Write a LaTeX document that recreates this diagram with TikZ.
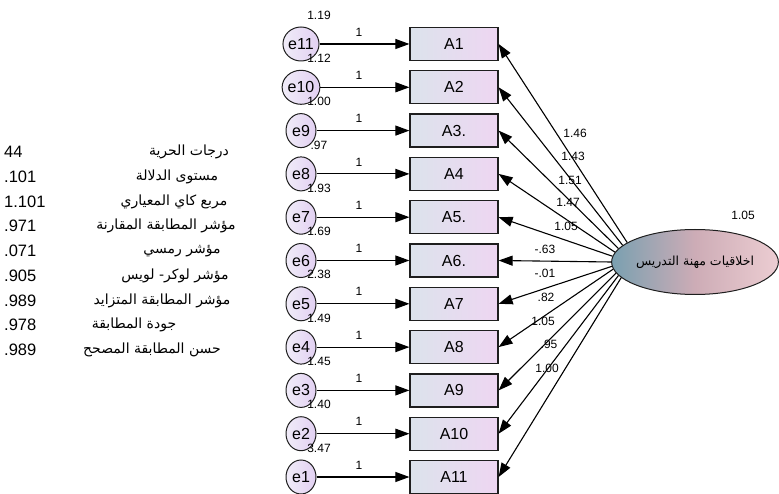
\documentclass[tikz,border=0pt]{standalone}
\usepackage{fontspec}
\setmainfont{Liberation Sans}
\newfontfamily\arabicfont[Script=Arabic]{DejaVu Sans}
\TeXXeTstate=1
\usetikzlibrary{arrows.meta,shapes.geometric}
\definecolor{boxL}{RGB}{220,227,236}
\definecolor{boxR}{RGB}{238,214,242}
\definecolor{errL}{RGB}{240,236,248}
\definecolor{errR}{RGB}{226,208,242}
\definecolor{facL}{RGB}{122,160,176}
\definecolor{facM}{RGB}{205,172,182}
\definecolor{facR}{RGB}{236,205,210}
\definecolor{edge}{RGB}{30,30,30}
\newcommand\dotnum[1]{.\kern0pt#1}
\tikzset{
  obs/.style={draw=edge, line width=1.2pt, rectangle, minimum width=88pt,
    minimum height=33pt, inner sep=0pt, left color=boxL, right color=boxR,
    font=\fontsize{16}{18}\selectfont},
  err/.style={draw=edge, line width=1pt, ellipse, minimum width=30pt,
    minimum height=34pt, inner sep=0pt, left color=errL, right color=errR,
    font=\fontsize{16}{18}\selectfont},
  latent/.style={draw=edge, line width=1pt, ellipse, minimum width=166pt,
    minimum height=65pt, inner sep=0pt, left color=facL, right color=facR,
    middle color=facM, font=\arabicfont\fontsize{12.5}{14}\selectfont},
  arr/.style={-{Triangle[length=14pt,width=10pt]}, line width=1.1pt, draw=black},
  small/.style={inner sep=0pt, font=\fontsize{12}{14}\selectfont},
  tabnum/.style={inner sep=0pt, anchor=west, font=\fontsize{16.5}{19}\selectfont},
  tabtxt/.style={inner sep=0pt, font=\arabicfont\fontsize{14}{17}\selectfont}
}
\begin{document}
\begin{tikzpicture}[x=1pt,y=-1pt]
\useasboundingbox (0,0) rectangle (779,494);

% latent factor
\node[latent] (F) at (695,262) {\beginR اخلاقيات مهنة التدريس\endR};
\node[small] (vF) at (743,215) {1.05};

% indicators, their error terms and the loadings from the factor
\foreach \i/\lab/\var/\ang in {1/A1/1.19/164, 2/A2/1.12/167, 3/A3./1.00/170,
    4/A4/.97/173, 5/A5./1.93/176, 6/A6./1.69/180, 7/A7/2.38/183,
    8/A8/1.49/185.5, 9/A9/1.45/188, 10/A10/1.40/190, 11/A11/3.47/192}{
  \pgfmathsetmacro\yy{44+(\i-1)*43.3}
  \pgfmathtruncatemacro\k{12-\i}
  \node[obs] (A\i) at (454,\yy) {\lab};
  \node[err] (e\k) at (301,\yy) {e\k};
  \node[small] (v\k) at (319,\yy-29) {\var};
  \draw[arr] (e\k) -- (A\i);
  \node[small] (w\i) at (359,\yy-12) {1};
  \draw[arr] (F.\ang) -- (A\i.east);
}

% loading estimates
\foreach \i/\val/\x/\y in {1/1.46/575/133, 2/1.43/573/156, 3/1.51/570/180,
    4/1.47/568/202, 5/1.05/566/226, 6/-.63/545/249, 7/-.01/545/273,
    8/.82/546/297, 9/1.05/543/321, 10/.95/549/344, 11/1.00/547/368}{
  \node[small] (L\i) at (\x,\y) {\val};
}

% fit indices
\foreach \i/\num/\txt/\xs in {1/44/درجات الحرية/189, 2/\dotnum{101}/مستوى الدلالة/177,
    3/1.101/مربع كاي المعياري/174, 4/\dotnum{971}/مؤشر المطابقة المقارنة/166,
    5/\dotnum{071}/مؤشر رمسي/182, 6/\dotnum{905}/مؤشر لوكر- لويس/175,
    7/\dotnum{989}/مؤشر المطابقة المتزايد/162, 8/\dotnum{978}/جودة المطابقة/134,
    9/\dotnum{989}/حسن المطابقة المصحح/152}{
  \pgfmathsetmacro\yy{152+(\i-1)*24.75}
  \node[tabnum] (n\i) at (4,\yy) {\num};
  \node[tabtxt] (t\i) at (\xs,\yy) {\beginR\txt\endR};
}
\end{tikzpicture}
\end{document}
